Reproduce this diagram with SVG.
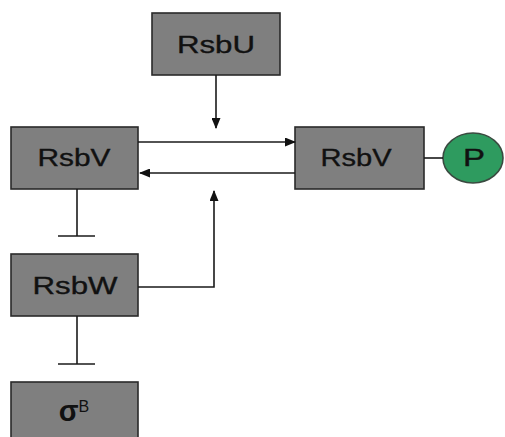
<svg xmlns="http://www.w3.org/2000/svg" width="505" height="437" viewBox="0 0 505 437">
<style>
.box{fill:#7f7f7f;stroke:#2a2a2a;stroke-width:1.6}
.lbl{font-family:"Liberation Sans",Arial,sans-serif;font-size:23px;fill:#111;stroke:#111;stroke-width:0.35;text-anchor:middle}
.ln{fill:none;stroke:#1a1a1a;stroke-width:1.6}
</style>
<defs>
<marker id="ah" markerWidth="11" markerHeight="9" refX="10" refY="4.5" orient="auto" markerUnits="userSpaceOnUse">
<path d="M0,0 L11,4.5 L0,9 Z" fill="#111"/>
</marker>
</defs>
<rect width="505" height="437" fill="#fff"/>
<g id="rsbu">
<rect class="box" x="152" y="13" width="128" height="62"/>
<text class="lbl" x="216" y="53" textLength="78" lengthAdjust="spacingAndGlyphs">RsbU</text>
</g>
<g id="rsbv-left">
<rect class="box" x="11" y="127" width="127" height="62"/>
<text class="lbl" x="74" y="166" textLength="73" lengthAdjust="spacingAndGlyphs">RsbV</text>
</g>
<g id="rsbv-right">
<rect class="box" x="295" y="127" width="129" height="62"/>
<text class="lbl" x="356" y="166" textLength="71" lengthAdjust="spacingAndGlyphs">RsbV</text>
</g>
<g id="p">
<ellipse cx="473" cy="158" rx="30" ry="25" fill="#2e9b5f" stroke="#3a4a40" stroke-width="1.6"/>
<text class="lbl" x="474" y="166" textLength="22" lengthAdjust="spacingAndGlyphs">P</text>
</g>
<g id="rsbw">
<rect class="box" x="11" y="254" width="127" height="62"/>
<text class="lbl" x="75" y="294" textLength="85" lengthAdjust="spacingAndGlyphs">RsbW</text>
</g>
<g id="sigmab">
<rect class="box" x="11" y="382" width="127" height="62"/>
<text x="74" y="421" style="font-family:'Liberation Sans',Arial,sans-serif;fill:#111;text-anchor:middle"><tspan font-size="29" font-weight="bold">σ</tspan><tspan font-size="16" dy="-9">B</tspan></text>
</g>
<g id="connectors">
<line class="ln" x1="216" y1="75" x2="216" y2="128" marker-end="url(#ah)"/>
<line class="ln" x1="138" y1="142" x2="295" y2="142" marker-end="url(#ah)"/>
<line class="ln" x1="295" y1="173" x2="140" y2="173" marker-end="url(#ah)"/>
<polyline class="ln" points="138,287 214,287 214,191" marker-end="url(#ah)"/>
<line class="ln" x1="424" y1="158" x2="443" y2="158"/>
<line class="ln" x1="77" y1="189" x2="77" y2="236"/>
<line class="ln" x1="58" y1="236" x2="95" y2="236"/>
<line class="ln" x1="77" y1="316" x2="77" y2="364"/>
<line class="ln" x1="58" y1="364" x2="95" y2="364"/>
</g>
</svg>
